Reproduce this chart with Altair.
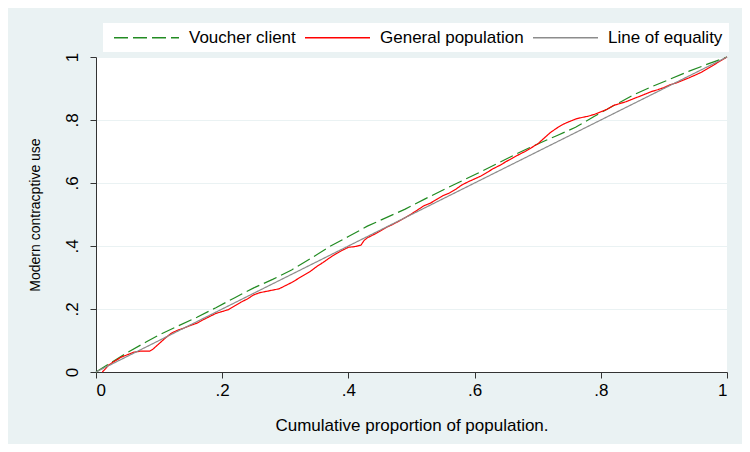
import altair as alt
import pandas as pd

# Series names (legend order)
series_names = ["Voucher client", "General population", "Line of equality"]
series_colors = ["#228B22", "#FF0000", "#8C8C8C"]

# Voucher client concentration curve
voucher_x = [0, .02, .05, .08, .10, .13, .16, .19, .22, .25, .28, .31, .34, .37, .40, .43,
             .46, .49, .52, .55, .58, .61, .64, .67, .70, .73, .76, .79, .82, .85, .88, .91,
             .94, .97, 1.0]
voucher_y = [0, .025, .062, .096, .118, .146, .174, .204, .236, .267, .294, .324, .36, .398,
             .43, .463, .49, .517, .548, .578, .607, .636, .666, .696, .724, .75, .777, .812,
             .845, .878, .905, .93, .955, .978, 1.0]

# General population concentration curve
general_x = [.010, .015, .020, .030, .040, .050, .060, .070, .085, .090, .100, .110, .120,
             .130, .140, .150, .160, .170, .180, .190, .200, .210, .220, .230, .240, .250,
             .260, .270, .280, .290, .300, .310, .320, .330, .340, .350, .360, .370, .380,
             .390, .400, .410, .420, .425, .430, .440, .450, .460, .470, .480, .490, .500,
             .510, .520, .530, .540, .550, .560, .570, .580, .590, .600, .610, .620, .630,
             .640, .650, .660, .670, .680, .690, .700, .710, .720, .730, .740, .750, .760,
             .770, .780, .790, .800, .810, .820, .830, .840, .850, .860, .870, .880, .890,
             .900, .910, .920, .930, .940, .950, .960, .970, .980, .990, 1.000]
general_y = [.000, .010, .022, .035, .047, .055, .063, .066, .066, .072, .090, .108, .124,
             .133, .140, .148, .155, .166, .176, .186, .192, .198, .210, .222, .232, .245,
             .252, .256, .260, .264, .274, .284, .296, .308, .320, .335, .348, .362, .375,
             .386, .396, .398, .403, .418, .426, .436, .447, .459, .468, .479, .490, .502,
             .515, .528, .536, .548, .560, .568, .580, .594, .604, .613, .622, .634, .646,
             .656, .668, .679, .690, .700, .712, .724, .742, .760, .774, .786, .795, .803,
             .808, .812, .818, .826, .834, .846, .852, .858, .866, .874, .882, .890, .896,
             .903, .912, .918, .926, .934, .943, .952, .964, .976, .988, 1.000]

# Line of equality
equality_x = [0, 1]
equality_y = [0, 1]

# Axis ticks
tick_values = [0, 0.2, 0.4, 0.6, 0.8, 1.0]

rows = []
for i, (x, y) in enumerate(zip(voucher_x, voucher_y)):
    rows.append({"series": series_names[0], "x": x, "y": y, "o": i})
for i, (x, y) in enumerate(zip(general_x, general_y)):
    rows.append({"series": series_names[1], "x": x, "y": y, "o": i})
for i, (x, y) in enumerate(zip(equality_x, equality_y)):
    rows.append({"series": series_names[2], "x": x, "y": y, "o": i})
df = pd.DataFrame(rows)

label_expr = "replace(format(datum.value, '.1~f'), '0.', '.')"

x_enc = alt.X("x:Q", scale=alt.Scale(domain=[0, 1], nice=False, zero=False),
              axis=alt.Axis(values=tick_values, labelExpr=label_expr, grid=False,
                            title="Cumulative proportion of population.",
                            titleFontSize=17, titlePadding=19, labelPadding=4))
y_enc = alt.Y("y:Q", scale=alt.Scale(domain=[0, 1], nice=False, zero=False),
              axis=alt.Axis(values=tick_values, labelExpr=label_expr, grid=True,
                            labelAngle=270, labelAlign="center", labelBaseline="bottom",
                            labelPadding=9, titleFontSize=14,
                            title="Modern contracptive use", titlePadding=21))

color_enc = alt.Color("series:N",
                      scale=alt.Scale(domain=series_names, range=series_colors),
                      legend=alt.Legend(title=None, orient="none", legendX=7, legendY=-34,
                                        direction="horizontal", fillColor="white",
                                        padding=6, symbolType="M-5,0H5", symbolSize=169,
                                        symbolOffset=29, labelOffset=34,
                                        symbolStrokeWidth=1.5, labelFontSize=17,
                                        labelFont="Liberation Sans", labelColor="black",
                                        columnPadding=4))
dash_enc = alt.StrokeDash("series:N",
                          scale=alt.Scale(domain=series_names,
                                          range=[[14, 5], [1, 0], [1, 0]]),
                          legend=None)

lines = alt.Chart(df).mark_line(strokeWidth=1.2).encode(
    x=x_enc, y=y_enc, color=color_enc, strokeDash=dash_enc, order="o:Q",
    detail="series:N"
)

chart = lines.properties(
    width=631, height=315,
    autosize=alt.AutoSizeParams(type="none"),
    padding={"left": 88, "top": 49, "right": 15, "bottom": 72},
    background="#EAF2F3",
).configure_view(
    fill="white", stroke=None
).configure_axis(
    domainColor="#333333", tickColor="#333333", tickSize=6,
    labelFont="Liberation Sans", labelFontSize=17, labelColor="black",
    titleFont="Liberation Sans", titleFontWeight="normal",
    titleColor="black", gridColor="#EAF2F3", gridWidth=1.2
)

chart.save("out.html", embed_options={"renderer": "svg", "actions": False})
